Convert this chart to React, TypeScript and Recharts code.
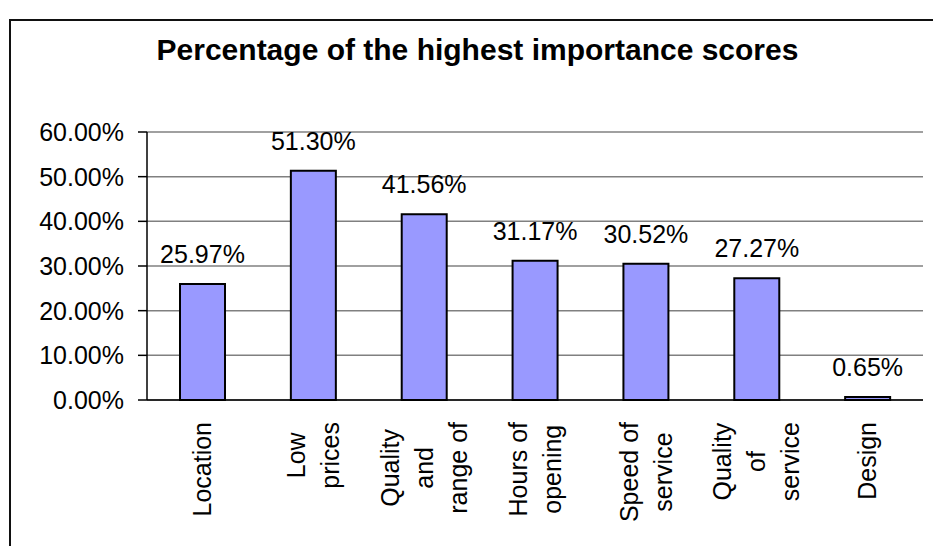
import { BarChart, Bar, XAxis, YAxis, CartesianGrid, LabelList } from "recharts";

const FONT = "'Liberation Sans', Arial, sans-serif";
const FS = 25;

// categories use \n where the original label wraps
const categories = [
  "Location",
  "Low\nprices",
  "Quality\nand\nrange of",
  "Hours of\nopening",
  "Speed of\nservice",
  "Quality\nof\nservice",
  "Design",
];
const shares = [25.97, 51.3, 41.56, 31.17, 30.52, 27.27, 0.65];
const yTicks = [0, 10, 20, 30, 40, 50, 60];
const edgeTicks = [0, 1, 2, 3, 4, 5, 6, 7];

const data = categories.map((name, i) => ({ name, share: shares[i] }));

const fmtPct = (v: number) => `${Number(v).toFixed(2)}%`;

let canvas: HTMLCanvasElement | null = null;
function textWidth(s: string) {
  if (!canvas) canvas = document.createElement("canvas");
  const ctx = canvas.getContext("2d");
  if (!ctx) return s.length * FS * 0.5;
  ctx.font = `${FS}px ${FONT}`;
  return ctx.measureText(s).width;
}

// rotated, multi-line category label, lines centred like Excel does
function CategoryTick({ x, y, payload }: any) {
  const lines = String(payload.value).split("\n");
  const maxW = Math.max(...lines.map(textWidth));
  return (
    <g transform={`translate(${x},${y}) rotate(-90)`}>
      {lines.map((line, i) => (
        <text
          key={i}
          x={-maxW / 2}
          y={(i - (lines.length - 1) / 2) * 34}
          dy="0.35em"
          textAnchor="middle"
          fontSize={FS}
          fontFamily={FONT}
          fill="#000"
        >
          {line}
        </text>
      ))}
    </g>
  );
}

export default function App() {
  return (
    <div
      style={{
        position: "absolute",
        left: 0,
        top: 0,
        width: 933,
        height: 546,
        overflow: "hidden",
        background: "#fff",
        fontFamily: FONT,
      }}
    >
      {/* chart frame, runs off the right and bottom edges */}
      <div
        style={{
          position: "absolute",
          left: 9,
          top: 19,
          width: 1000,
          height: 1000,
          border: "2px solid #111",
        }}
      />
      <div
        style={{
          position: "absolute",
          left: 22,
          top: 35,
          width: 911,
          textAlign: "center",
          fontSize: 30,
          lineHeight: "30px",
          fontWeight: "bold",
          color: "#000",
        }}
      >
        Percentage of the highest importance scores
      </div>
      <div style={{ position: "absolute", left: 0, top: 0 }}>
        <BarChart
          width={933}
          height={546}
          data={data}
          margin={{ top: 132, right: 10, bottom: 0, left: 0 }}
        >
          <CartesianGrid
            xAxisId="cat"
            yAxisId="left"
            vertical={false}
            stroke="#808080"
            strokeWidth={1.5}
          />
          <XAxis
            xAxisId="edge"
            type="number"
            domain={[0, 7]}
            ticks={edgeTicks}
            tick={false}
            tickLine={{ stroke: "#000", strokeWidth: 1.5 }}
            tickSize={9}
            axisLine={false}
            height={0}
            allowDataOverflow
          />
          <XAxis
            xAxisId="cat"
            dataKey="name"
            interval={0}
            height={146}
            tickLine={false}
            tickSize={0}
            tickMargin={22}
            axisLine={{ stroke: "#000", strokeWidth: 1.5 }}
            tick={<CategoryTick />}
          />
          <YAxis
            yAxisId="left"
            width={147}
            domain={[0, 60]}
            ticks={yTicks}
            tickFormatter={fmtPct}
            tickSize={9}
            tickMargin={14}
            tickLine={{ stroke: "#000", strokeWidth: 1.5 }}
            axisLine={{ stroke: "#000", strokeWidth: 1.5 }}
            tick={{ fill: "#000", fontSize: FS, fontFamily: FONT }}
          />
          <YAxis
            yAxisId="right"
            orientation="right"
            width={0}
            domain={[0, 60]}
            tick={false}
            tickLine={false}
            axisLine={{ stroke: "#808080", strokeWidth: 1.5 }}
          />
          <Bar
            xAxisId="cat"
            yAxisId="left"
            dataKey="share"
            fill="#9999FF"
            stroke="#000"
            strokeWidth={2}
            barSize={45}
            isAnimationActive={false}
          >
            <LabelList
              dataKey="share"
              position="top"
              offset={21}
              formatter={fmtPct as any}
              fill="#000"
              fontSize={FS}
              fontFamily={FONT}
            />
          </Bar>
        </BarChart>
      </div>
    </div>
  );
}
